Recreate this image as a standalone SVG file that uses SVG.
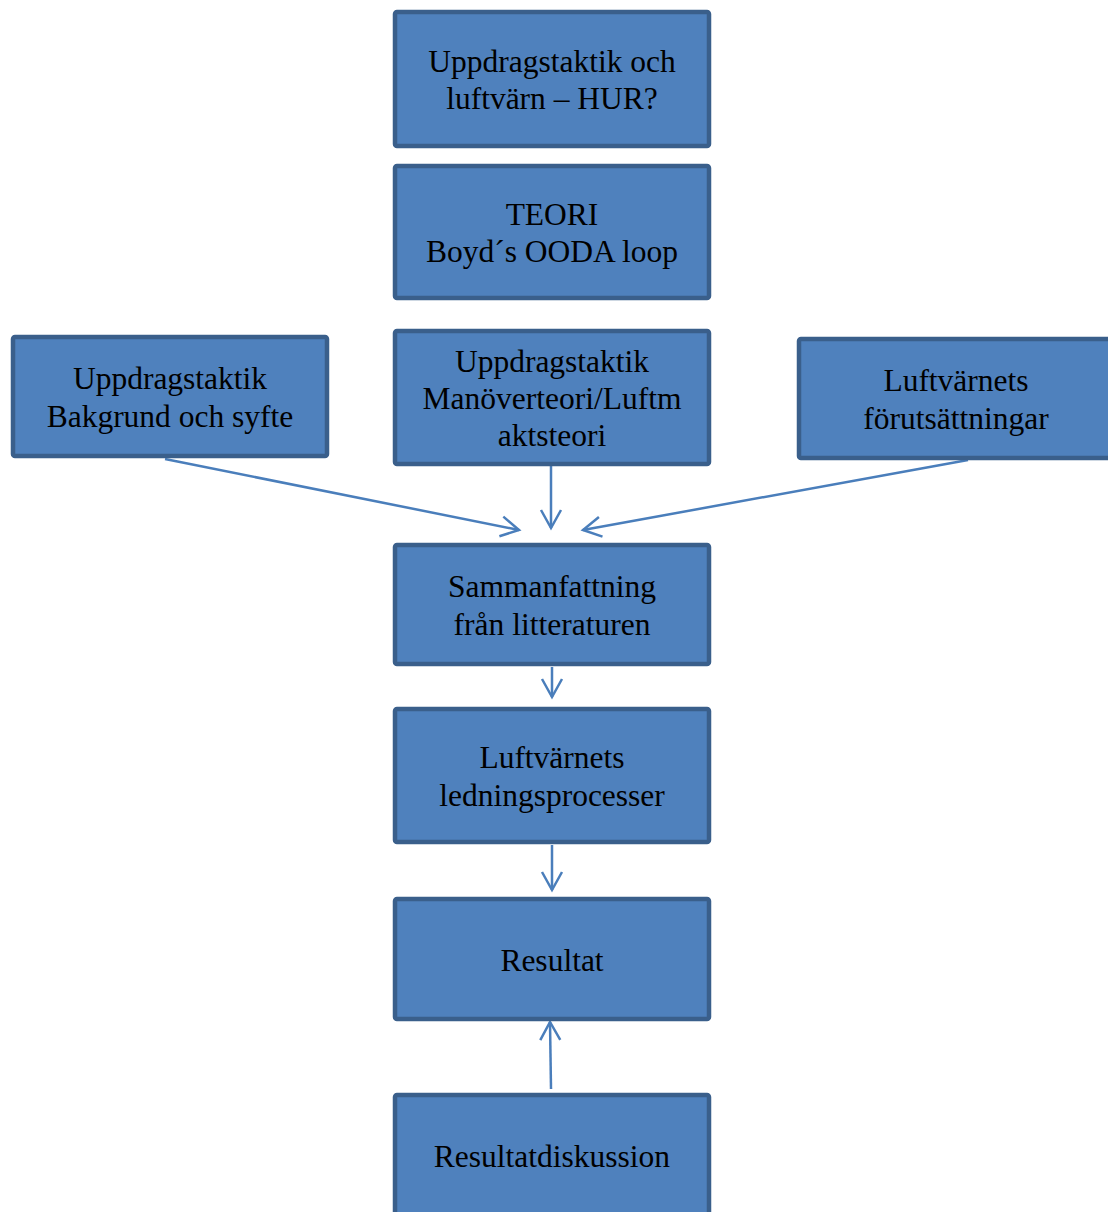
<svg xmlns="http://www.w3.org/2000/svg" width="1108" height="1212" viewBox="0 0 1108 1212">
<style>
.box{fill:#4f81bd;stroke:#3a5f8b;stroke-width:4.5}
.t{font-family:"Liberation Serif","Times New Roman",serif;font-size:31.5px;fill:#000;text-anchor:middle}
.c{stroke:#4a7ebb;stroke-width:2.5;fill:none}
</style>
<defs>
<marker id="ah" markerUnits="userSpaceOnUse" markerWidth="40" markerHeight="40" refX="30" refY="20" orient="auto" viewBox="0 0 40 40">
<path d="M12,10 L30,20 L12,30" fill="none" stroke="#4a7ebb" stroke-width="2.5"/>
</marker>
</defs>
<rect width="1108" height="1212" fill="#fff"/>
<g id="connectors">
<line class="c" x1="165" y1="459" x2="519" y2="530" marker-end="url(#ah)"/>
<line class="c" x1="551" y1="466" x2="551" y2="528" marker-end="url(#ah)"/>
<line class="c" x1="968" y1="460" x2="583" y2="530" marker-end="url(#ah)"/>
<line class="c" x1="552" y1="667" x2="552" y2="697" marker-end="url(#ah)"/>
<line class="c" x1="552" y1="845" x2="552" y2="890" marker-end="url(#ah)"/>
<line class="c" x1="551" y1="1089" x2="550" y2="1022" marker-end="url(#ah)"/>
</g>
<g id="n1"><rect class="box" x="395" y="12" width="314" height="134" rx="2"/>
<text class="t" x="552" y="72">Uppdragstaktik och</text><text class="t" x="552" y="109">luftvärn – HUR?</text></g>
<g id="n2"><rect class="box" x="395" y="166" width="314" height="132" rx="2"/>
<text class="t" x="552" y="225">TEORI</text><text class="t" x="552" y="262">Boyd´s OODA loop</text></g>
<g id="n3"><rect class="box" x="395" y="331" width="314" height="133" rx="2"/>
<text class="t" x="552" y="372">Uppdragstaktik</text><text class="t" x="552" y="409">Manöverteori/Luftm</text><text class="t" x="552" y="446">aktsteori</text></g>
<g id="n4"><rect class="box" x="13" y="337" width="314" height="119" rx="2"/>
<text class="t" x="170" y="389">Uppdragstaktik</text><text class="t" x="170" y="427">Bakgrund och syfte</text></g>
<g id="n5"><rect class="box" x="799" y="339" width="314" height="119" rx="2"/>
<text class="t" x="956" y="391">Luftvärnets</text><text class="t" x="956" y="429">förutsättningar</text></g>
<g id="n6"><rect class="box" x="395" y="545" width="314" height="119" rx="2"/>
<text class="t" x="552" y="597">Sammanfattning</text><text class="t" x="552" y="635">från litteraturen</text></g>
<g id="n7"><rect class="box" x="395" y="709" width="314" height="133" rx="2"/>
<text class="t" x="552" y="768">Luftvärnets</text><text class="t" x="552" y="806">ledningsprocesser</text></g>
<g id="n8"><rect class="box" x="395" y="899" width="314" height="120" rx="2"/>
<text class="t" x="552" y="971">Resultat</text></g>
<g id="n9"><rect class="box" x="395" y="1095" width="314" height="130" rx="2"/>
<text class="t" x="552" y="1167">Resultatdiskussion</text></g>
</svg>
